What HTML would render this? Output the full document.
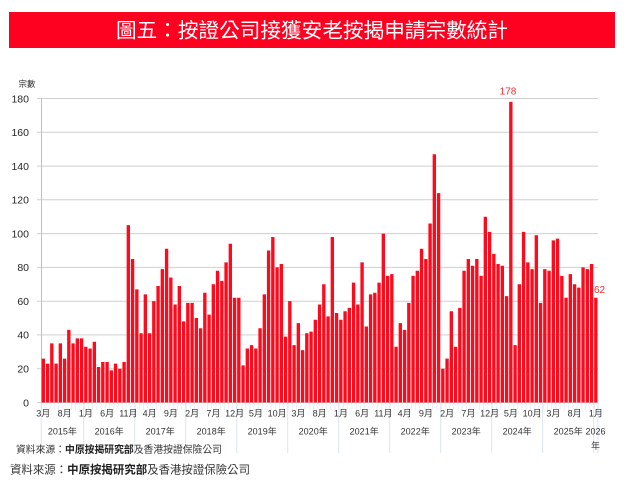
<!DOCTYPE html>
<html><head><meta charset="utf-8"><style>
html,body{margin:0;padding:0;background:#fff;}
svg{display:block;}
text{font-family:"Liberation Sans","Noto Sans CJK TC",sans-serif;}
</style></head><body>
<svg width="625" height="493" viewBox="0 0 625 493" xmlns="http://www.w3.org/2000/svg">
<rect x="0" y="0" width="625" height="493" fill="#fff"/>
<rect x="9" y="12" width="606" height="36" fill="#fe0020"/>
<text x="116" y="37.5" font-size="20.5" fill="#fff" textLength="392" lengthAdjust="spacingAndGlyphs">圖五：按證公司接獲安老按揭申請宗數統計</text>
<text x="27" y="87" font-size="8.5" fill="#262626" text-anchor="middle">宗數</text>
<path d="M37 98.5H598M37 132.3H598M37 166.1H598M37 199.8H598M37 233.6H598M37 267.4H598M37 301.2H598M37 334.9H598M37 368.7H598M37 402.5H598" stroke="#cfcfcf" stroke-width="1" fill="none"/>
<line x1="41.5" y1="98.5" x2="41.5" y2="402.5" stroke="#bfbfbf" stroke-width="1"/>
<g font-size="10.5" fill="#262626" text-anchor="end">
<text x="29" y="102.3">180</text>
<text x="29" y="136.1">160</text>
<text x="29" y="169.9">140</text>
<text x="29" y="203.6">120</text>
<text x="29" y="237.4">100</text>
<text x="29" y="271.2">80</text>
<text x="29" y="305">60</text>
<text x="29" y="338.7">40</text>
<text x="29" y="372.5">20</text>
<text x="29" y="406.3">0</text>
</g>
<defs>
<pattern id="tk" x="41.2" y="0" width="4.25" height="20" patternUnits="userSpaceOnUse">
<rect x="0" y="0" width="0.8" height="20" fill="#e3e8f4"/>
</pattern>
</defs>
<rect x="41.2" y="403" width="557" height="7" fill="url(#tk)"/>
<path d="M41.2 403V453M83.7 403V453M134.7 403V453M185.7 403V453M236.7 403V453M287.7 403V453M338.7 403V453M389.7 403V453M440.7 403V453M491.7 403V453M542.7 403V453M593.7 403V453M598 403V453" stroke="#dbe4f1" stroke-width="1" fill="none"/>
<g transform="translate(0,402.5) scale(1,-1.6889)" fill="#ff0a1c">
<path d="M41.65 0v26h3.35v-26zm4.25 0v23h3.35v-23zm4.25 0v35h3.35v-35zm4.25 0v23h3.35v-23zm4.25 0v35h3.35v-35zm4.25 0v26h3.35v-26zm4.25 0v43h3.35v-43zm4.25 0v35h3.35v-35zm4.25 0v38h3.35v-38zm4.25 0v38h3.35v-38zm4.25 0v33h3.35v-33zm4.25 0v32h3.35v-32zm4.25 0v36h3.35v-36zm4.25 0v21h3.35v-21zm4.25 0v24h3.35v-24zm4.25 0v24h3.35v-24zm4.25 0v19h3.35v-19zm4.25 0v23h3.35v-23zm4.25 0v20h3.35v-20zm4.25 0v24h3.35v-24z
m4.25 0v105h3.35v-105zm4.25 0v85h3.35v-85zm4.25 0v67h3.35v-67zm4.25 0v41h3.35v-41zm4.25 0v64h3.35v-64zm4.25 0v41h3.35v-41zm4.25 0v60h3.35v-60zm4.25 0v69h3.35v-69zm4.25 0v79h3.35v-79zm4.25 0v91h3.35v-91zm4.25 0v74h3.35v-74zm4.25 0v58h3.35v-58zm4.25 0v69h3.35v-69z
m4.25 0v48h3.35v-48zm4.25 0v59h3.35v-59zm4.25 0v59h3.35v-59zm4.25 0v50h3.35v-50zm4.25 0v44h3.35v-44zm4.25 0v65h3.35v-65zm4.25 0v52h3.35v-52zm4.25 0v70h3.35v-70zm4.25 0v78h3.35v-78zm4.25 0v72h3.35v-72zm4.25 0v83h3.35v-83zm4.25 0v94h3.35v-94zm4.25 0v62h3.35v-62zm4.25 0v62h3.35v-62zm4.25 0v22h3.35v-22zm4.25 0v32h3.35v-32zm4.25 0v34h3.35v-34zm4.25 0v32h3.35v-32zm4.25 0v44h3.35v-44zm4.25 0v64h3.35v-64zm4.25 0v90h3.35v-90zm4.25 0v98h3.35v-98zm4.25 0v80h3.35v-80zm4.25 0v82h3.35v-82zm4.25 0v39h3.35v-39zm4.25 0v60h3.35v-60zm4.25 0v34h3.35v-34zm4.25 0v47h3.35v-47zm4.25 0v31h3.35v-31zm4.25 0v41h3.35v-41zm4.25 0v42h3.35v-42zm4.25 0v49h3.35v-49zm4.25 0v58h3.35v-58z
m4.25 0v70h3.35v-70zm4.25 0v51h3.35v-51zm4.25 0v98h3.35v-98zm4.25 0v53h3.35v-53zm4.25 0v49h3.35v-49zm4.25 0v54h3.35v-54zm4.25 0v56h3.35v-56zm4.25 0v71h3.35v-71zm4.25 0v58h3.35v-58zm4.25 0v83h3.35v-83zm4.25 0v45h3.35v-45zm4.25 0v64h3.35v-64zm4.25 0v65h3.35v-65zm4.25 0v71h3.35v-71zm4.25 0v100h3.35v-100zm4.25 0v75h3.35v-75zm4.25 0v76h3.35v-76zm4.25 0v33h3.35v-33zm4.25 0v47h3.35v-47zm4.25 0v43h3.35v-43zm4.25 0v59h3.35v-59zm4.25 0v75h3.35v-75zm4.25 0v78h3.35v-78zm4.25 0v91h3.35v-91zm4.25 0v85h3.35v-85zm4.25 0v106h3.35v-106zm4.25 0v147h3.35v-147zm4.25 0v124h3.35v-124zm4.25 0v20h3.35v-20zm4.25 0v26h3.35v-26zm4.25 0v54h3.35v-54zm4.25 0v33h3.35v-33zm4.25 0v56h3.35v-56z
m4.25 0v78h3.35v-78zm4.25 0v85h3.35v-85zm4.25 0v81h3.35v-81zm4.25 0v85h3.35v-85zm4.25 0v75h3.35v-75zm4.25 0v110h3.35v-110zm4.25 0v101h3.35v-101zm4.25 0v88h3.35v-88zm4.25 0v82h3.35v-82zm4.25 0v81h3.35v-81zm4.25 0v63h3.35v-63zm4.25 0v178h3.35v-178zm4.25 0v34h3.35v-34zm4.25 0v70h3.35v-70zm4.25 0v101h3.35v-101zm4.25 0v83h3.35v-83zm4.25 0v79h3.35v-79zm4.25 0v99h3.35v-99zm4.25 0v59h3.35v-59zm4.25 0v79h3.35v-79zm4.25 0v78h3.35v-78zm4.25 0v96h3.35v-96zm4.25 0v97h3.35v-97zm4.25 0v75h3.35v-75zm4.25 0v62h3.35v-62zm4.25 0v76h3.35v-76zm4.25 0v70h3.35v-70zm4.25 0v68h3.35v-68zm4.25 0v80h3.35v-80zm4.25 0v79h3.35v-79zm4.25 0v82h3.35v-82zm4.25 0v62h3.35v-62z"/>
</g>
<text x="508" y="94.5" font-size="10" fill="#ff2a2a" text-anchor="middle">178</text>
<text x="594" y="293" font-size="10" fill="#ff2a2a">62</text>
<g font-size="9" fill="#333" text-anchor="middle">
<text x="43.3" y="416.7">3月</text><text x="64.6" y="416.7">8月</text><text x="85.9" y="416.7">1月</text><text x="107.1" y="416.7">6月</text><text x="128.4" y="416.7">11月</text><text x="149.6" y="416.7">4月</text><text x="170.9" y="416.7">9月</text>
<text x="192.1" y="416.7">2月</text><text x="213.4" y="416.7">7月</text><text x="234.6" y="416.7">12月</text><text x="255.9" y="416.7">5月</text><text x="277.1" y="416.7">10月</text><text x="298.4" y="416.7">3月</text><text x="319.6" y="416.7">8月</text>
<text x="340.9" y="416.7">1月</text><text x="362.1" y="416.7">6月</text><text x="383.4" y="416.7">11月</text><text x="404.6" y="416.7">4月</text><text x="425.9" y="416.7">9月</text><text x="447.1" y="416.7">2月</text><text x="468.4" y="416.7">7月</text>
<text x="489.6" y="416.7">12月</text><text x="510.9" y="416.7">5月</text><text x="532.1" y="416.7">10月</text><text x="553.4" y="416.7">3月</text><text x="574.6" y="416.7">8月</text><text x="595.9" y="416.7">1月</text>
<text x="62.4" y="434.5">2015年</text><text x="109.2" y="434.5">2016年</text><text x="160.2" y="434.5">2017年</text><text x="211.2" y="434.5">2018年</text><text x="262.2" y="434.5">2019年</text><text x="313.2" y="434.5">2020年</text>
<text x="364.2" y="434.5">2021年</text><text x="415.2" y="434.5">2022年</text><text x="466.2" y="434.5">2023年</text><text x="517.2" y="434.5">2024年</text><text x="568.2" y="434.5">2025年</text>
<text x="595.5" y="434.5">2026</text><text x="595.5" y="449">年</text>
</g>
<text x="16" y="452.8" font-size="10" fill="#333" textLength="206" lengthAdjust="spacingAndGlyphs">資料來源：<tspan font-weight="bold" fill="#222">中原按揭研究部</tspan>及香港按證保險公司</text>
<text x="10" y="473.4" font-size="11.5" fill="#333" textLength="240" lengthAdjust="spacingAndGlyphs">資料來源：<tspan font-weight="bold" fill="#222">中原按揭研究部</tspan>及香港按證保險公司</text>
</svg>
</body></html>
